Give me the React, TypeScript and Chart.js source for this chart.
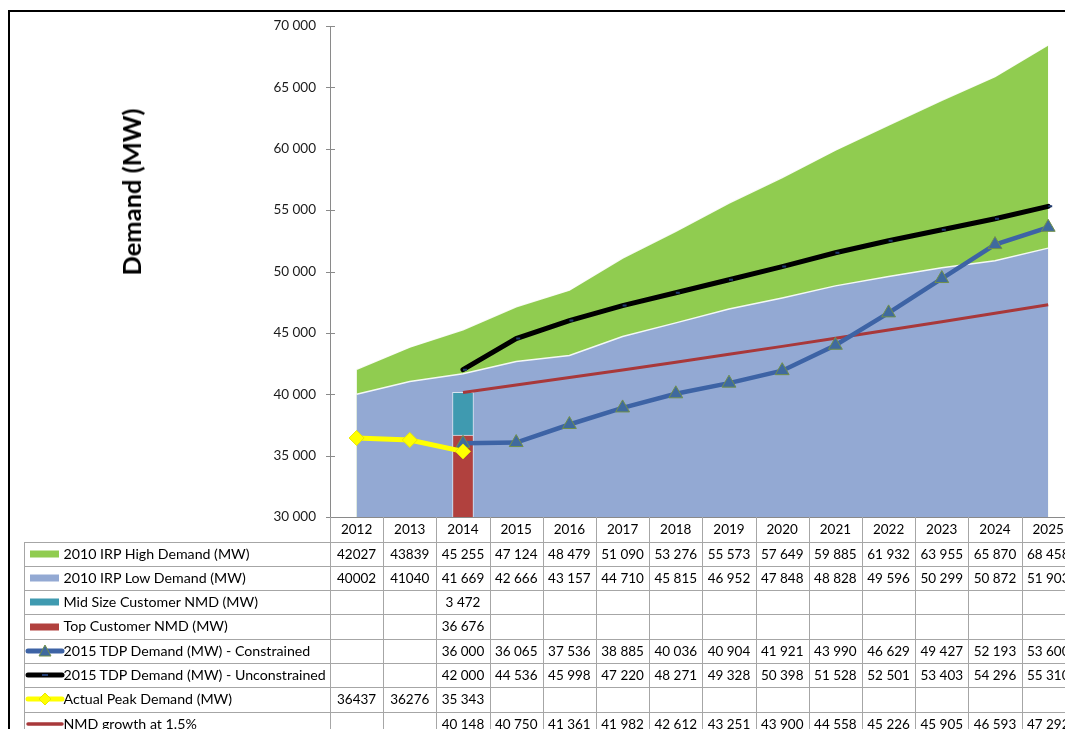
import React, { useEffect, useRef } from "react";
import { Chart, registerables } from "chart.js";

Chart.register(...registerables);

// ---------------- DATA ----------------
const years = ["2012", "2013", "2014", "2015", "2016", "2017", "2018", "2019", "2020", "2021", "2022", "2023", "2024", "2025"];
const highDemand = [42027, 43839, 45255, 47124, 48479, 51090, 53276, 55573, 57649, 59885, 61932, 63955, 65870, 68458];
const lowDemand = [40002, 41040, 41669, 42666, 43157, 44710, 45815, 46952, 47848, 48828, 49596, 50299, 50872, 51903];
const midSizeNMD = [null, null, 3472, null, null, null, null, null, null, null, null, null, null, null];
const topCustomerNMD = [null, null, 36676, null, null, null, null, null, null, null, null, null, null, null];
const tdpConstrained = [null, null, 36000, 36065, 37536, 38885, 40036, 40904, 41921, 43990, 46629, 49427, 52193, 53600];
const tdpUnconstrained = [null, null, 42000, 44536, 45998, 47220, 48271, 49328, 50398, 51528, 52501, 53403, 54296, 55310];
const actualPeak = [36437, 36276, 35343, null, null, null, null, null, null, null, null, null, null, null];
const nmdGrowth = [null, null, 40148, 40750, 41361, 41982, 42612, 43251, 43900, 44558, 45226, 45905, 46593, 47292];
const yMin = 30000;
const yMax = 70000;
const yStep = 5000;

// ---------------- LAYOUT / STYLE ----------------
const AXIS_X = 330;
const TOP_Y = 26;
const BOTTOM_Y = 517;
const RIGHT_X = 1074.8;
const CANVAS_W = 1100;
const CANVAS_H = 729;
const COL_W = (RIGHT_X - AXIS_X) / years.length;
const TABLE_TOP = 541.5;
const ROW_H = 24.3;
const LEGEND_LEFT = 24;
const AXIS_COLOR = "#8a8a8a";
const GRID_COLOR = "#a6a6a6";
const FONT = "Lato, 'Open Sans', sans-serif";

const C = {
  green: "#90cc50",
  blue: "#93a9d3",
  teal: "#3f9ab0",
  red: "#b1413e",
  tdpBlue: "#3d63a5",
  triFill: "#3f6a9e",
  triEdge: "#71904a",
  black: "#000000",
  dash: "#1f3a70",
  yellow: "#ffff00",
  nmd: "#a8383a",
};

const group = (v: number) => String(v).replace(/\B(?=(\d{3})+(?!\d))/g, " ");
const cellText = (v: number | null, i: number) => (v == null ? "" : i < 2 ? String(v) : group(v));

type KeyKind = "rect" | "tri" | "dash" | "diamond" | "line";
const rows: { label: string; data: (number | null)[]; color: string; kind: KeyKind }[] = [
  { label: "2010 IRP High Demand (MW)", data: highDemand, color: C.green, kind: "rect" },
  { label: "2010 IRP Low Demand (MW)", data: lowDemand, color: C.blue, kind: "rect" },
  { label: "Mid Size Customer NMD (MW)", data: midSizeNMD, color: C.teal, kind: "rect" },
  { label: "Top Customer NMD (MW)", data: topCustomerNMD, color: C.red, kind: "rect" },
  { label: "2015 TDP Demand (MW) - Constrained", data: tdpConstrained, color: C.tdpBlue, kind: "tri" },
  { label: "2015 TDP Demand (MW) - Unconstrained", data: tdpUnconstrained, color: C.black, kind: "dash" },
  { label: "Actual Peak Demand (MW)", data: actualPeak, color: C.yellow, kind: "diamond" },
  { label: "NMD growth at 1.5%", data: nmdGrowth, color: C.nmd, kind: "line" },
];

const crossTicks = {
  id: "crossTicks",
  afterDraw(chart: any) {
    const y = chart.scales.y;
    const ctx = chart.ctx;
    ctx.save();
    ctx.strokeStyle = AXIS_COLOR;
    ctx.lineWidth = 1;
    y.ticks.forEach((t: any) => {
      const py = Math.round(y.getPixelForValue(t.value)) + 0.5;
      ctx.beginPath();
      ctx.moveTo(y.right - 4, py);
      ctx.lineTo(y.right + 5, py);
      ctx.stroke();
    });
    ctx.restore();
  },
};

function LegendKey({ kind, color }: { kind: KeyKind; color: string }) {
  const w = 40;
  const h = 16;
  const cy = h / 2;
  if (kind === "rect") {
    return (
      <svg width={w} height={h} style={{ position: "absolute", left: 3, top: (ROW_H - h) / 2 }}>
        <rect x={3} y={cy - 3.5} width={29} height={7} fill={color} />
      </svg>
    );
  }
  const lw = kind === "line" ? 3.5 : 5;
  return (
    <svg width={w} height={h} style={{ position: "absolute", left: 1, top: (ROW_H - h) / 2 }}>
      <line x1={3} y1={cy} x2={37} y2={cy} stroke={color} strokeWidth={lw} strokeLinecap="round" />
      {kind === "tri" && <polygon points={`20,${cy - 6} 26,${cy + 5} 14,${cy + 5}`} fill={C.triFill} stroke={C.triEdge} strokeWidth={1} />}
      {kind === "dash" && <line x1={17} y1={cy} x2={23} y2={cy} stroke={C.dash} strokeWidth={2} />}
      {kind === "diamond" && <polygon points={`20,${cy - 6} 26,${cy} 20,${cy + 6} 14,${cy}`} fill={C.yellow} stroke="#e8e800" strokeWidth={1} />}
    </svg>
  );
}

export default function App() {
  const canvasRef = useRef<HTMLCanvasElement>(null);

  useEffect(() => {
    Chart.defaults.font.family = FONT;
    const chart = new Chart(canvasRef.current as HTMLCanvasElement, {
      type: "bar",
      data: {
        labels: years,
        datasets: [
          {
            type: "line",
            label: "Actual Peak Demand (MW)",
            data: actualPeak,
            stack: "s1",
            order: 1,
            borderColor: C.yellow,
            backgroundColor: C.yellow,
            borderWidth: 5,
            pointStyle: "rectRot",
            pointRadius: 7.5,
            pointBackgroundColor: C.yellow,
            pointBorderColor: "#e8e800",
            pointBorderWidth: 1,
            fill: false,
            tension: 0,
          },
          {
            type: "line",
            label: "2015 TDP Demand (MW) - Constrained",
            data: tdpConstrained,
            stack: "s2",
            order: 2,
            borderColor: C.tdpBlue,
            backgroundColor: C.triFill,
            borderWidth: 4.5,
            pointStyle: "triangle",
            pointRadius: 8,
            pointBackgroundColor: C.triFill,
            pointBorderColor: C.triEdge,
            pointBorderWidth: 1,
            fill: false,
            tension: 0,
          },
          {
            type: "line",
            label: "2015 TDP Demand (MW) - Unconstrained",
            data: tdpUnconstrained,
            stack: "s3",
            order: 3,
            borderColor: C.black,
            backgroundColor: C.dash,
            borderWidth: 5,
            borderCapStyle: "round",
            pointStyle: "dash",
            pointRadius: 4,
            pointBorderColor: C.dash,
            pointBorderWidth: 2,
            fill: false,
            tension: 0,
          },
          {
            type: "line",
            label: "NMD growth at 1.5%",
            data: nmdGrowth,
            stack: "s4",
            order: 4,
            borderColor: C.nmd,
            borderWidth: 3,
            pointRadius: 0,
            fill: false,
            tension: 0,
          },
          {
            type: "bar",
            label: "Top Customer NMD (MW)",
            data: topCustomerNMD,
            stack: "nmd",
            order: 5,
            backgroundColor: C.red,
            borderColor: "#d8e4f0",
            borderWidth: 1,
            barThickness: 21,
          },
          {
            type: "bar",
            label: "Mid Size Customer NMD (MW)",
            data: midSizeNMD,
            stack: "nmd",
            order: 6,
            backgroundColor: C.teal,
            borderColor: "#d8e4f0",
            borderWidth: 1,
            barThickness: 21,
          },
          {
            type: "line",
            label: "2010 IRP Low Demand (MW)",
            data: lowDemand,
            stack: "s7",
            order: 7,
            borderColor: "rgba(255,255,255,0.9)",
            backgroundColor: C.blue,
            borderWidth: 1.5,
            pointRadius: 0,
            fill: "start",
            tension: 0,
          },
          {
            type: "line",
            label: "2010 IRP High Demand (MW)",
            data: highDemand,
            stack: "s8",
            order: 8,
            borderColor: "rgba(255,255,255,0.9)",
            backgroundColor: C.green,
            borderWidth: 1.5,
            pointRadius: 0,
            fill: "start",
            tension: 0,
          },
        ] as any,
      },
      options: {
        responsive: false,
        animation: false,
        events: [],
        layout: { padding: { left: 0, top: TOP_Y, right: CANVAS_W - RIGHT_X, bottom: CANVAS_H - BOTTOM_Y } },
        plugins: { legend: { display: false }, tooltip: { enabled: false }, title: { display: false } },
        scales: {
          x: { display: false, stacked: true, offset: true },
          y: {
            stacked: true,
            min: yMin,
            max: yMax,
            afterFit: (s: any) => {
              s.width = AXIS_X;
            },
            grid: { display: false, drawTicks: true, tickLength: 4 },
            border: { display: true, color: AXIS_COLOR, width: 1 },
            ticks: {
              stepSize: yStep,
              padding: 10,
              color: "#1a1a1a",
              font: { family: FONT, size: 13.5 },
              callback: (v: any) => group(Number(v)),
            },
          },
        },
      },
      plugins: [crossTicks],
    } as any);
    return () => chart.destroy();
  }, []);

  const colX = (i: number) => AXIS_X + i * COL_W;
  const tableBottom = CANVAS_H + 20;

  return (
    <div style={{ position: "fixed", left: 0, top: 0, width: 1065, height: 729, overflow: "hidden", background: "#fff", fontFamily: FONT, color: "#000" }}>
      <div style={{ position: "absolute", left: 8, top: 10, width: 1200, height: 900, borderLeft: "2px solid #000", borderTop: "2px solid #000", boxSizing: "border-box" }} />
      <canvas ref={canvasRef} width={CANVAS_W} height={CANVAS_H} style={{ position: "absolute", left: 0, top: 0 }} />

      <div
        style={{
          position: "absolute",
          left: 131,
          top: 192,
          transform: "translate(-50%, -50%) rotate(-90deg)",
          whiteSpace: "nowrap",
          fontWeight: 700,
          fontSize: 25.5,
          lineHeight: "30px",
        }}
      >
        Demand (MW)
      </div>

      {/* x axis line (top of data table) */}
      <div style={{ position: "absolute", left: AXIS_X, top: BOTTOM_Y, width: 800, height: 1, background: AXIS_COLOR }} />
      {/* vertical grid lines of table */}
      {years.map((_, i) => (
        <div key={"v" + i} style={{ position: "absolute", left: Math.round(colX(i + 1)), top: BOTTOM_Y, width: 1, height: tableBottom - BOTTOM_Y, background: GRID_COLOR }} />
      ))}
      <div style={{ position: "absolute", left: AXIS_X, top: BOTTOM_Y, width: 1, height: tableBottom - BOTTOM_Y, background: GRID_COLOR }} />
      <div style={{ position: "absolute", left: LEGEND_LEFT, top: Math.round(TABLE_TOP), width: 1, height: tableBottom - TABLE_TOP, background: GRID_COLOR }} />
      {rows.map((_, r) => (
        <div key={"h" + r} style={{ position: "absolute", left: LEGEND_LEFT, top: Math.round(TABLE_TOP + r * ROW_H), width: 1100, height: 1, background: GRID_COLOR }} />
      ))}
      <div style={{ position: "absolute", left: LEGEND_LEFT, top: Math.round(TABLE_TOP + rows.length * ROW_H), width: 1100, height: 1, background: GRID_COLOR }} />

      {/* header row: years */}
      {years.map((y, i) => (
        <div
          key={"y" + i}
          style={{ position: "absolute", left: colX(i), top: BOTTOM_Y, width: COL_W, height: TABLE_TOP - BOTTOM_Y, lineHeight: `${TABLE_TOP - BOTTOM_Y}px`, textAlign: "center", fontSize: 13.5 }}
        >
          {y}
        </div>
      ))}

      {/* data rows */}
      {rows.map((row, r) => {
        const top = TABLE_TOP + r * ROW_H;
        return (
          <React.Fragment key={"r" + r}>
            <div style={{ position: "absolute", left: LEGEND_LEFT, top, width: AXIS_X - LEGEND_LEFT, height: ROW_H }}>
              <LegendKey kind={row.kind} color={row.color} />
              <div style={{ position: "absolute", left: 39.5, top: 0, height: ROW_H, lineHeight: `${ROW_H}px`, fontSize: 14.2, whiteSpace: "nowrap" }}>{row.label}</div>
            </div>
            {row.data.map((v, i) => (
              <div
                key={"c" + r + "-" + i}
                style={{ position: "absolute", left: colX(i), top, width: COL_W, height: ROW_H, lineHeight: `${ROW_H}px`, textAlign: "center", fontSize: 13.5, whiteSpace: "nowrap" }}
              >
                {cellText(v, i)}
              </div>
            ))}
          </React.Fragment>
        );
      })}
    </div>
  );
}
